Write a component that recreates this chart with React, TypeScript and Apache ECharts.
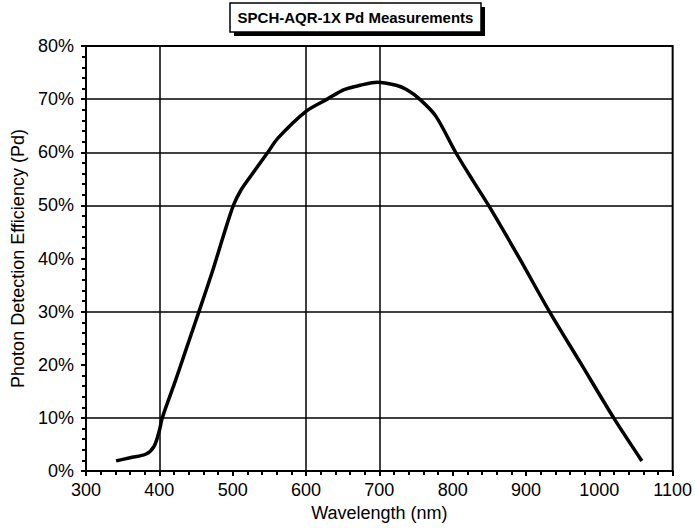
import React, { useEffect, useRef } from "react";
import * as echarts from "echarts";

const titleText = "SPCH-AQR-1X Pd Measurements";
const xAxisName = "Wavelength (nm)";
const yAxisName = "Photon Detection Efficiency (Pd)";

const wavelengths = [341, 360, 382, 393, 400, 404, 422, 436, 454, 472, 489, 501, 511, 522, 548, 562, 600, 629, 652, 674, 697, 723, 737, 755, 777, 804, 827, 849, 890, 932, 975, 1020, 1058];
const efficiency = [1.9, 2.5, 3.2, 4.7, 7.6, 10, 17, 22.7, 30, 37.4, 45, 50, 52.8, 55, 60, 62.7, 67.7, 70, 71.8, 72.6, 73.2, 72.6, 71.8, 70, 66.8, 60, 54.8, 50, 40.3, 30, 20.2, 9.9, 1.9];

const verticalGrid = [400, 600, 700];
const horizontalGrid = [10, 30, 50, 60, 70];

const FONT = "'Liberation Sans', Arial, Helvetica, sans-serif";

export default function App() {
  const ref = useRef<HTMLDivElement>(null);
  useEffect(() => {
    if (!ref.current) return;
    const chart = echarts.init(ref.current, undefined, { renderer: "svg" });
    const data = wavelengths.map((w, i) => [w, efficiency[i]]);
    chart.setOption({
      animation: false,
      backgroundColor: "#fff",
      textStyle: { fontFamily: FONT },
      grid: {
        left: 86,
        right: 18,
        top: 46,
        bottom: 57,
        show: true,
        borderColor: "#000",
        borderWidth: 2,
        backgroundColor: "transparent",
      },
      graphic: [
        { type: "rect", shape: { x: 234, y: 7, width: 251, height: 29 }, style: { fill: "#000" }, z: 10 },
        { type: "rect", shape: { x: 230, y: 3, width: 251, height: 29 }, style: { fill: "#fff", stroke: "#000", lineWidth: 1.5 }, z: 11 },
        {
          type: "text",
          x: 355.5,
          y: 17.5,
          z: 12,
          style: { text: titleText, font: `bold 15px ${FONT}`, fill: "#000", align: "center", verticalAlign: "middle" },
        },
      ],
      xAxis: {
        type: "value",
        min: 300,
        max: 1100,
        interval: 100,
        name: xAxisName,
        nameLocation: "middle",
        nameGap: 31,
        nameTextStyle: { fontSize: 18, color: "#000", fontFamily: FONT },
        axisLine: { show: true, lineStyle: { color: "#000", width: 2 } },
        axisTick: { show: true, length: 5, lineStyle: { color: "#000", width: 2 } },
        minorTick: { show: true, splitNumber: 5, length: 4, lineStyle: { color: "#000", width: 2 } },
        splitLine: { show: false },
        axisLabel: { fontSize: 18, color: "#000", margin: 10, fontFamily: FONT, formatter: (v: number) => String(v) },
      },
      yAxis: {
        type: "value",
        min: 0,
        max: 80,
        interval: 10,
        name: yAxisName,
        nameLocation: "middle",
        nameGap: 58,
        nameTextStyle: { fontSize: 18, color: "#000", fontFamily: FONT },
        axisLine: { show: true, lineStyle: { color: "#000", width: 2 } },
        axisTick: { show: true, length: 5, lineStyle: { color: "#000", width: 2 } },
        minorTick: { show: true, splitNumber: 5, length: 4, lineStyle: { color: "#000", width: 2 } },
        splitLine: { show: false },
        axisLabel: { fontSize: 18, color: "#000", margin: 12, formatter: "{value}%", fontFamily: FONT },
      },
      series: [
        {
          type: "line",
          data,
          smooth: 0.3,
          showSymbol: false,
          symbol: "none",
          lineStyle: { color: "#000", width: 3.5 },
          markLine: {
            silent: true,
            symbol: "none",
            label: { show: false },
            lineStyle: { color: "#000", width: 1.5, type: "solid" },
            data: [
              ...verticalGrid.map((v) => ({ xAxis: v })),
              ...horizontalGrid.map((v) => ({ yAxis: v })),
            ],
          },
        },
      ],
    });
    return () => chart.dispose();
  }, []);
  return <div ref={ref} style={{ position: "fixed", left: 0, top: 0, width: 695, height: 528 }} />;
}
